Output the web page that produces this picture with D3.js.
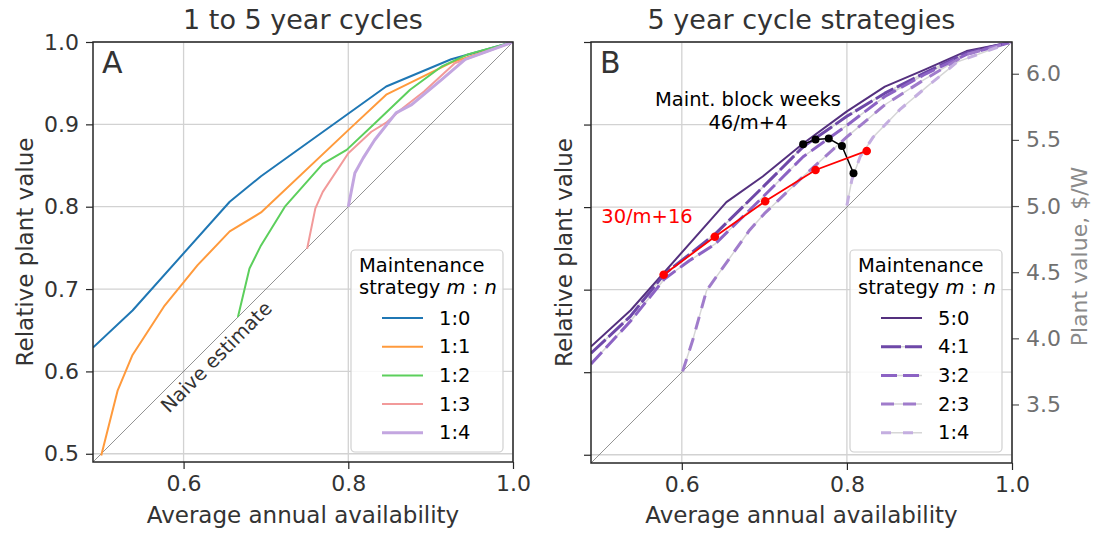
<!DOCTYPE html>
<html>
<head>
<meta charset="utf-8">
<script src="https://cdn.jsdelivr.net/npm/d3@7"></script>
<style>
  html, body { margin: 0; padding: 0; background: #fff; }
  svg { display: block; font-family: "DejaVu Sans", sans-serif; }
</style>
</head>
<body>
<svg id="chart" width="1095" height="533"></svg>
<script>
// ---------- DATA ----------
const xTicks = [0.6, 0.8, 1.0];
const yTicks = [0.5, 0.6, 0.7, 0.8, 0.9, 1.0];
const rightTicks = [3.5, 4.0, 4.5, 5.0, 5.5, 6.0];
const plantValueScale = 6.24; // $/W at relative value 1.0

// Panel A: 1 to 5 year cycles
const seriesA = ["1:0", "1:1", "1:2", "1:3", "1:4"];
const colorsA = ["#1f77b4", "#ff9a3c", "#5ccf5c", "#f29a9a", "#c3a6e0"];
const a10x = [0.49, 0.538, 0.656, 0.694, 0.846, 0.925, 1.0];
const a10y = [0.629, 0.674, 0.806, 0.837, 0.946, 0.979, 1.0];
const a11x = [0.50, 0.520, 0.538, 0.577, 0.617, 0.656, 0.694, 0.800, 0.846, 0.925, 1.0];
const a11y = [0.498, 0.577, 0.620, 0.680, 0.729, 0.770, 0.793, 0.893, 0.936, 0.975, 1.0];
const a12x = [0.666, 0.680, 0.694, 0.723, 0.769, 0.798, 0.832, 0.875, 0.913, 0.945, 1.0];
const a12y = [0.666, 0.725, 0.753, 0.800, 0.852, 0.869, 0.901, 0.942, 0.970, 0.985, 1.0];
const a13x = [0.750, 0.760, 0.769, 0.800, 0.828, 0.846, 0.864, 0.892, 0.929, 1.0];
const a13y = [0.749, 0.798, 0.818, 0.865, 0.891, 0.902, 0.918, 0.940, 0.974, 1.0];
const a14x = [0.800, 0.808, 0.818, 0.832, 0.858, 0.877, 0.913, 0.942, 1.0];
const a14y = [0.800, 0.841, 0.859, 0.881, 0.914, 0.924, 0.954, 0.979, 1.0];

// Panel B: 5 year cycle strategies
const seriesB = ["5:0", "4:1", "3:2", "2:3", "1:4"];
const colorsB = ["#54307e", "#6e48a8", "#8c63c4", "#a07ccb", "#c4aee0"];
const b50x = [0.49, 0.538, 0.654, 0.698, 0.747, 0.800, 0.846, 0.893, 0.945, 1.0];
const b50y = [0.631, 0.675, 0.806, 0.837, 0.877, 0.916, 0.946, 0.966, 0.989, 1.0];
const b41x = [0.49, 0.538, 0.579, 0.640, 0.698, 0.747, 0.800, 0.846, 0.893, 0.945, 1.0];
const b41y = [0.623, 0.668, 0.719, 0.767, 0.824, 0.873, 0.910, 0.938, 0.962, 0.987, 1.0];
const b32x = [0.49, 0.538, 0.579, 0.609, 0.640, 0.698, 0.747, 0.800, 0.846, 0.893, 0.945, 1.0];
const b32y = [0.610, 0.662, 0.713, 0.735, 0.755, 0.812, 0.861, 0.899, 0.934, 0.960, 0.985, 1.0];
const b23x = [0.601, 0.613, 0.630, 0.650, 0.682, 0.700, 0.747, 0.800, 0.846, 0.893, 0.945, 1.0];
const b23y = [0.601, 0.638, 0.699, 0.727, 0.772, 0.792, 0.837, 0.885, 0.924, 0.954, 0.985, 1.0];
const b14x = [0.800, 0.806, 0.816, 0.832, 0.864, 0.897, 0.934, 1.0];
const b14y = [0.802, 0.833, 0.861, 0.885, 0.918, 0.946, 0.976, 1.0];

// Maintenance block week strategies
const redX = [0.578, 0.640, 0.701, 0.762, 0.824];
const redY = [0.718, 0.764, 0.807, 0.845, 0.868];
const blackX = [0.747, 0.762, 0.778, 0.794, 0.808];
const blackY = [0.876, 0.882, 0.883, 0.874, 0.841];

// ---------- STYLES ----------
const textColor = "#333";
const gridColor = "#d2d2d2";
const frameColor = "#262626";
const widthsA = [2, 2, 2, 2, 3];
const widthsB = [2, 3, 3, 3, 3];
const dashesB = [null, "20,4", "16,6", "13,9", "10,12"];

const svg = d3.select("#chart");
const dom = [0.49, 1.0];
const panels = [
  { left: 93, top: 42, size: 420, ylab: 26 },
  { left: 591, top: 42, size: 421, ylab: 565 }
];

function zip(xs, ys) { return xs.map((x, i) => [x, ys[i]]); }

function drawPanel(p, idx, opts) {
  const x = d3.scaleLinear().domain(dom).range([p.left, p.left + p.size]);
  const y = d3.scaleLinear().domain(dom).range([p.top + p.size, p.top]);
  const g = svg.append("g");

  const clipId = "clip" + idx;
  svg.append("clipPath").attr("id", clipId).append("rect")
    .attr("x", p.left).attr("y", p.top).attr("width", p.size).attr("height", p.size);

  // grid
  g.append("g").selectAll("line.gx").data(xTicks).join("line")
    .attr("x1", d => x(d)).attr("x2", d => x(d))
    .attr("y1", p.top).attr("y2", p.top + p.size)
    .attr("stroke", gridColor).attr("stroke-width", 1.3);
  g.append("g").selectAll("line.gy").data(yTicks).join("line")
    .attr("y1", d => y(d)).attr("y2", d => y(d))
    .attr("x1", p.left).attr("x2", p.left + p.size)
    .attr("stroke", gridColor).attr("stroke-width", 1.3);

  // diagonal naive estimate
  g.append("line")
    .attr("x1", x(dom[0])).attr("y1", y(dom[0]))
    .attr("x2", x(dom[1])).attr("y2", y(dom[1]))
    .attr("stroke", "#777").attr("stroke-width", 0.8);

  // axes
  const xAxis = d3.axisBottom(x).tickValues(xTicks).tickFormat(d3.format(".1f"))
    .tickSize(7).tickPadding(6);
  const gx = g.append("g").attr("transform", `translate(0,${p.top + p.size})`).call(xAxis);
  const yAxis = d3.axisLeft(y).tickValues(yTicks).tickFormat(opts.yLabels ? d3.format(".1f") : "")
    .tickSize(7).tickPadding(7);
  const gy = g.append("g").attr("transform", `translate(${p.left},0)`).call(yAxis);
  [gx, gy].forEach(a => {
    a.select(".domain").remove();
    a.selectAll(".tick line").attr("stroke", frameColor).attr("stroke-width", 1.2);
    a.selectAll(".tick text").attr("fill", textColor).style("font-size", "22px")
      .style("font-family", "DejaVu Sans");
  });

  if (opts.right) {
    const yr = d3.scaleLinear().domain([dom[0] * plantValueScale, dom[1] * plantValueScale])
      .range([p.top + p.size, p.top]);
    const gr = g.append("g").attr("transform", `translate(${p.left + p.size},0)`)
      .call(d3.axisRight(yr).tickValues(rightTicks).tickFormat(d3.format(".1f")).tickSize(7).tickPadding(7));
    gr.select(".domain").remove();
    gr.selectAll(".tick line").attr("stroke", "#555").attr("stroke-width", 1.2);
    gr.selectAll(".tick text").attr("fill", "#707070").style("font-size", "22px")
      .style("font-family", "DejaVu Sans");
    svg.append("text")
      .attr("transform", `translate(1081,${p.top + p.size / 2 + 4}) rotate(-90)`)
      .attr("text-anchor", "middle").attr("dominant-baseline", "middle")
      .attr("fill", "#8a8a8a").style("font-size", "22px")
      .text("Plant value, $/W");
  }

  // axis labels
  svg.append("text")
    .attr("x", p.left + p.size / 2).attr("y", 523)
    .attr("text-anchor", "middle").attr("fill", textColor).style("font-size", "23px")
    .text("Average annual availability");
  svg.append("text")
    .attr("transform", `translate(${p.ylab},${p.top + p.size / 2}) rotate(-90)`)
    .attr("text-anchor", "middle").attr("dominant-baseline", "middle")
    .attr("fill", textColor).style("font-size", "23px")
    .text("Relative plant value");
  // title
  svg.append("text")
    .attr("x", p.left + p.size / 2).attr("y", 29)
    .attr("text-anchor", "middle").attr("fill", textColor).style("font-size", "27px")
    .text(opts.title);
  // panel letter
  svg.append("text")
    .attr("x", p.left + 9).attr("y", p.top + 31)
    .attr("fill", textColor).style("font-size", "30px")
    .text(opts.letter);

  return { x, y, g, clipId };
}

const line = (x, y) => d3.line().x(d => x(d[0])).y(d => y(d[1]));

// ---------- PANEL A ----------
const A = drawPanel(panels[0], 0, { yLabels: true, title: "1 to 5 year cycles", letter: "A" });
const dataA = [zip(a10x, a10y), zip(a11x, a11y), zip(a12x, a12y), zip(a13x, a13y), zip(a14x, a14y)];
const la = line(A.x, A.y);
A.g.append("g").attr("clip-path", `url(#${A.clipId})`)
  .selectAll("path").data(dataA).join("path")
  .attr("d", la).attr("fill", "none")
  .attr("stroke", (d, i) => colorsA[i]).attr("stroke-width", (d, i) => widthsA[i])
  .attr("stroke-linejoin", "round");

// Naive estimate label
{
  const cx = A.x(0.642) - 1, cy = A.y(0.642) + 21;
  svg.append("text")
    .attr("transform", `translate(${cx},${cy}) rotate(-45)`)
    .attr("text-anchor", "middle").attr("dominant-baseline", "middle")
    .attr("fill", textColor).style("font-size", "19.5px")
    .text("Naive estimate");
}

// ---------- PANEL B ----------
const B = drawPanel(panels[1], 1, { yLabels: false, right: true, title: "5 year cycle strategies", letter: "B" });
const dataB = [zip(b50x, b50y), zip(b41x, b41y), zip(b32x, b32y), zip(b23x, b23y), zip(b14x, b14y)];
const lb = line(B.x, B.y);
const gB = B.g.append("g").attr("clip-path", `url(#${B.clipId})`);
// light gap lines under dashed series
gB.selectAll("path.gap").data(dataB).join("path")
  .attr("class", "gap")
  .attr("d", lb).attr("fill", "none")
  .attr("stroke", "#d6d6d6").attr("stroke-width", (d, i) => i === 0 ? 0 : 1.5);
gB.selectAll("path.ser").data(dataB).join("path")
  .attr("class", "ser")
  .attr("d", lb).attr("fill", "none")
  .attr("stroke", (d, i) => colorsB[i]).attr("stroke-width", (d, i) => widthsB[i])
  .attr("stroke-dasharray", (d, i) => dashesB[i])
  .attr("stroke-linejoin", "round");

// Maintenance block week strategies
const redData = zip(redX, redY);
const blackData = zip(blackX, blackY);
gB.append("path").attr("d", lb(blackData)).attr("fill", "none").attr("stroke", "#000").attr("stroke-width", 1.5);
gB.selectAll("circle.bk").data(blackData).join("circle").attr("class", "bk")
  .attr("cx", d => B.x(d[0])).attr("cy", d => B.y(d[1])).attr("r", 4).attr("fill", "#000");
gB.append("path").attr("d", lb(redData)).attr("fill", "none").attr("stroke", "#ff0000").attr("stroke-width", 1.8);
gB.selectAll("circle.rd").data(redData).join("circle").attr("class", "rd")
  .attr("cx", d => B.x(d[0])).attr("cy", d => B.y(d[1])).attr("r", 4.3).attr("fill", "#ff0000");

svg.append("text").attr("x", 748).attr("y", 106).attr("text-anchor", "middle")
  .attr("fill", "#000").style("font-size", "19.5px").text("Maint. block weeks");
svg.append("text").attr("x", 748).attr("y", 129).attr("text-anchor", "middle")
  .attr("fill", "#000").style("font-size", "19.5px").text("46/m+4");
svg.append("text").attr("x", 647).attr("y", 223).attr("text-anchor", "middle")
  .attr("fill", "#ff0000").style("font-size", "19.5px").text("30/m+16");

// ---------- LEGENDS ----------
function legend(left, names, colors, widths, dashes) {
  const top = 250, w = 152, h = 202;
  const lg = svg.append("g");
  lg.append("rect").attr("x", left).attr("y", top).attr("width", w).attr("height", h)
    .attr("rx", 4).attr("fill", "#fff").attr("fill-opacity", 0.85)
    .attr("stroke", "#d0d0d0").attr("stroke-width", 1.2);
  lg.append("text").attr("x", left + 8).attr("y", top + 22).attr("fill", "#000")
    .style("font-size", "19.5px").text("Maintenance");
  const t2 = lg.append("text").attr("x", left + 8).attr("y", top + 44).attr("fill", "#000")
    .style("font-size", "19.5px");
  t2.append("tspan").text("strategy ");
  t2.append("tspan").style("font-style", "italic").text("m");
  t2.append("tspan").text(" : ");
  t2.append("tspan").style("font-style", "italic").text("n");
  names.forEach((n, i) => {
    const yy = top + 68 + i * 28.7;
    if (dashes && dashes[i]) {
      lg.append("line").attr("x1", left + 31).attr("x2", left + 72).attr("y1", yy).attr("y2", yy)
        .attr("stroke", "#d6d6d6").attr("stroke-width", 1.5);
    }
    lg.append("line").attr("x1", left + 31).attr("x2", left + 72).attr("y1", yy).attr("y2", yy)
      .attr("stroke", colors[i]).attr("stroke-width", widths[i])
      .attr("stroke-dasharray", dashes ? dashes[i] : null);
    lg.append("text").attr("x", left + 88).attr("y", yy).attr("dominant-baseline", "central")
      .attr("fill", "#000").style("font-size", "19.5px").text(n);
  });
}
legend(351, seriesA, colorsA, widthsA, null);
legend(850, seriesB, colorsB, widthsB, dashesB);

// frames on top
panels.forEach(p => {
  svg.append("rect").attr("x", p.left).attr("y", p.top).attr("width", p.size).attr("height", p.size)
    .attr("fill", "none").attr("stroke", frameColor).attr("stroke-width", 1.5);
});
</script>
</body>
</html>
